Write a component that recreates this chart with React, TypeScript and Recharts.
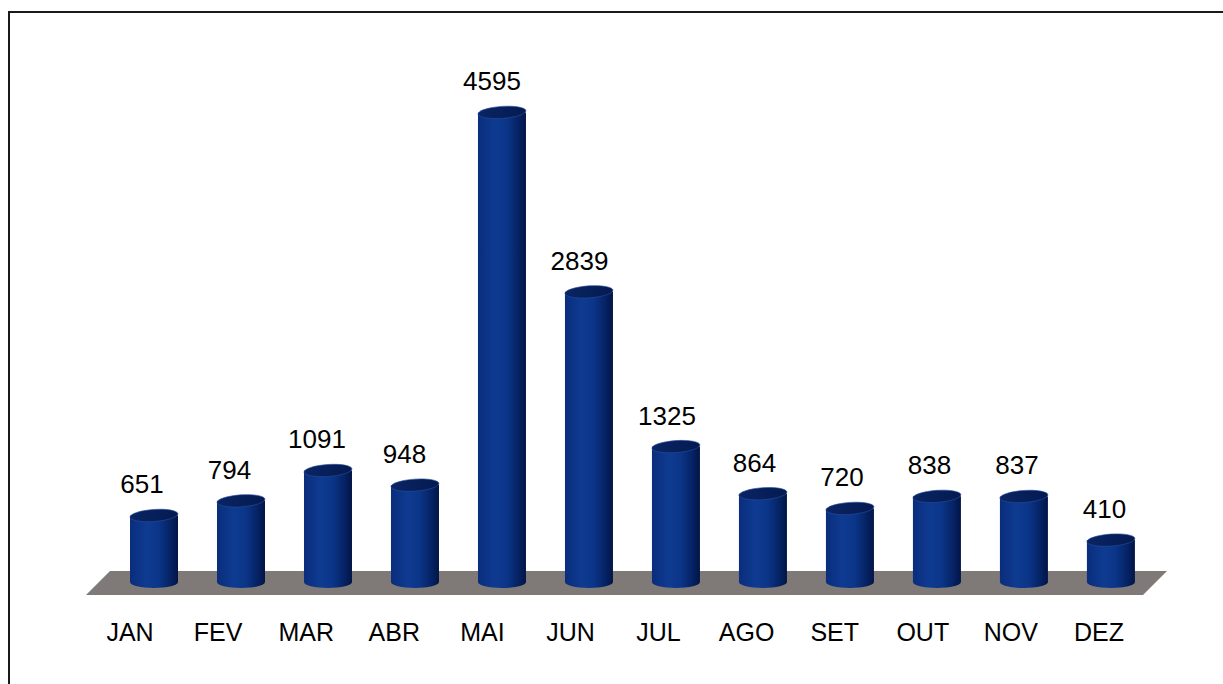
import React from "react";
import { BarChart, Bar, XAxis, YAxis, ReferenceArea } from "recharts";

const months = ["JAN", "FEV", "MAR", "ABR", "MAI", "JUN", "JUL", "AGO", "SET", "OUT", "NOV", "DEZ"];
const values = [651, 794, 1091, 948, 4595, 2839, 1325, 864, 720, 838, 837, 410];

const data = months.map((m, i) => ({ month: m, value: values[i] }));

const FONT = "'Liberation Sans', Arial, sans-serif";

const Cylinder = (props: any) => {
  const { x, y, width, height, index, value } = props;
  if (x == null || y == null) return null;
  const shift = 24 - (12 * index) / 11;
  const cx = x + width / 2 + shift;
  const rx = width / 2;
  const ry = 6;
  const bottom = y + height;
  const labelX = cx - 12 + (5.5 * index) / 11;
  return (
    <g>
      <path
        d={`M ${cx - rx} ${y} L ${cx - rx} ${bottom} A ${rx} ${ry} 0 0 0 ${cx + rx} ${bottom} L ${cx + rx} ${y} Z`}
        fill="url(#cylBody)"
      />
      <ellipse
        cx={cx}
        cy={y}
        rx={rx}
        ry={ry}
        fill="url(#cylTop)"
        stroke="#2a4c9a"
        strokeWidth={0.6}
        transform={`rotate(-4 ${cx} ${y})`}
      />
      <text
        x={labelX}
        y={y - 22}
        textAnchor="middle"
        fontFamily={FONT}
        fontSize={26}
        fill="#000"
      >
        {value}
      </text>
    </g>
  );
};

const Floor = (props: any) => {
  const { x, y, width, height } = props;
  const skew = 24;
  return (
    <path
      d={`M ${x} ${y + height} L ${x + width} ${y + height} L ${x + width + skew} ${y} L ${x + skew} ${y} Z`}
      fill="#7f7a78"
    />
  );
};

export default function App() {
  return (
    <div style={{ position: "absolute", left: 0, top: 0, width: 1223, height: 684, background: "#fff" }}>
      <div
        style={{
          position: "absolute",
          left: 8,
          top: 11,
          width: 1230,
          height: 700,
          borderLeft: "2px solid #1a1a1a",
          borderTop: "2px solid #1a1a1a",
          boxSizing: "border-box",
        }}
      />
      <div style={{ position: "absolute", left: 0, top: 0 }}>
        <BarChart
          width={1223}
          height={684}
          data={data}
          margin={{ top: 71, right: 80, bottom: 42, left: 86 }}
          barCategoryGap={40}
        >
          <defs>
            <linearGradient id="cylBody" x1="0" y1="0" x2="1" y2="0">
              <stop offset="0%" stopColor="#0a2d7c" />
              <stop offset="35%" stopColor="#0e3b91" />
              <stop offset="60%" stopColor="#0b3588" />
              <stop offset="85%" stopColor="#052263" />
              <stop offset="100%" stopColor="#021445" />
            </linearGradient>
            <linearGradient id="cylTop" x1="0" y1="0" x2="1" y2="0">
              <stop offset="0%" stopColor="#0a2564" />
              <stop offset="100%" stopColor="#041a50" />
            </linearGradient>
          </defs>
          <YAxis hide domain={[0, 5000]} />
          <XAxis
            dataKey="month"
            axisLine={false}
            tickLine={false}
            height={60}
            tickMargin={35}
            interval={0}
            tick={{ fill: "#000", fontSize: 25, fontFamily: FONT }}
          />
          <ReferenceArea y1={-127} y2={108} ifOverflow="visible" shape={<Floor />} />
          <Bar dataKey="value" barSize={48} isAnimationActive={false} shape={<Cylinder />} />
        </BarChart>
      </div>
    </div>
  );
}
